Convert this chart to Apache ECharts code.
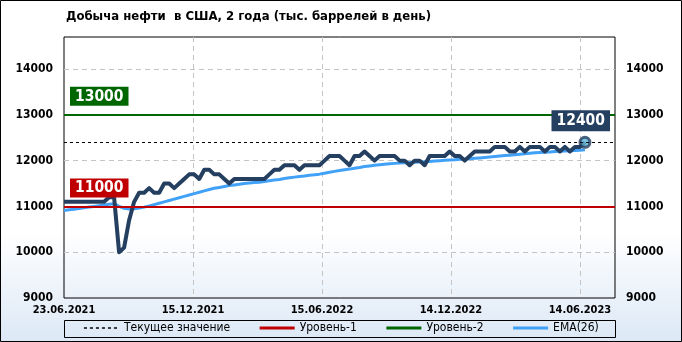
<!DOCTYPE html>
<html><head><meta charset="utf-8">
<script src="https://cdn.jsdelivr.net/npm/echarts@6/dist/echarts.min.js"></script>
<style>html,body{margin:0;padding:0;background:#fff}#c{width:682px;height:342px}</style>
</head><body><div id="c"></div>
<script>
const FONT = "'DejaVu Sans Condensed','DejaVu Sans',sans-serif";
const titleText = 'Добыча нефти  в США, 2 года (тыс. баррелей в день)';
const xTickLabels = ['23.06.2021','15.12.2021','15.06.2022','14.12.2022','14.06.2023'];
const yTickMin = 9000, yTickMax = 14700, yTickStep = 1000;
const production = [
  11100,11100,11100,11100,11100,11100,11100,11100,11100,11200,
  11200,10000,10100,10700,11100,11300,11300,11400,11300,11300,
  11500,11500,11400,11500,11600,11700,11700,11600,11800,11800,
  11700,11700,11600,11500,11600,11600,11600,11600,11600,11600,
  11600,11700,11800,11800,11900,11900,11900,11800,11900,11900,
  11900,11900,12000,12100,12100,12100,12000,11900,12100,12100,
  12200,12100,12000,12100,12100,12100,12100,12000,12000,11900,
  12000,12000,11900,12100,12100,12100,12100,12200,12100,12100,
  12000,12100,12200,12200,12200,12200,12300,12300,12300,12200,
  12200,12300,12200,12300,12300,12300,12200,12300,12300,12200,
  12300,12200,12300,12300,12400
];
const ema26 = [
  10910,10925,10940,10955,10970,10985,11000,11015,11030,11045,
  11060,11000,10960,10945,10950,10965,10985,11010,11040,11070,
  11100,11130,11160,11190,11220,11250,11280,11310,11340,11370,
  11395,11415,11435,11455,11470,11485,11500,11510,11520,11530,
  11545,11560,11575,11590,11610,11625,11640,11655,11665,11680,
  11690,11705,11725,11745,11765,11785,11800,11815,11835,11850,
  11870,11885,11900,11910,11920,11930,11940,11950,11955,11960,
  11965,11970,11975,11980,11990,12000,12010,12015,12020,12030,
  12035,12040,12050,12060,12070,12080,12090,12100,12110,12120,
  12130,12140,12150,12160,12170,12180,12185,12190,12200,12205,
  12210,12215,12220,12225,12235
];
const levels = [11000, 13000];
const xSlots = 110;          // weekly slots on the axis (axis runs past the last point)
const xLabelStep = 25.75;    // label spacing in slots

const NAVY = '#243f60', BLUE = '#41a1f7', RED = '#c00000', GREEN = '#006600';
const current = production[production.length - 1];
const lastIdx = production.length - 1;

function levelSeries(name, value, color) {
  return {
    name, type: 'line', data: [], symbol: 'none', z: 1,
    lineStyle: { color, width: 3 }, itemStyle: { color },
    markLine: {
      silent: true, symbol: 'none', animation: false,
      lineStyle: { color, width: 2, type: 'solid' },
      label: {
        show: true, position: 'insideStartTop', formatter: String(value), distance: [6, 9],
        backgroundColor: color, color: '#fff', fontFamily: FONT, fontWeight: 'bold',
        fontSize: 15.5, lineHeight: 16, padding: [2, 5, 1, 5]
      },
      emphasis: { disabled: true },
      data: [{ yAxis: value }]
    }
  };
}

const yLabel = { showMaxLabel: false, margin: 11, fontFamily: FONT, fontSize: 12, fontWeight: 'bold', color: '#000', formatter: v => String(v) };

const chart = echarts.init(document.getElementById('c'), null, { renderer: 'canvas' });
chart.setOption({
  animation: false,
  backgroundColor: new echarts.graphic.LinearGradient(0, 0, 0, 1, [
    { offset: 0, color: '#ffffff' }, { offset: 0.68, color: '#ffffff' }, { offset: 1, color: '#dce8f6' }
  ]),
  title: {
    text: titleText, left: 61, top: 5,
    textStyle: { fontFamily: FONT, fontSize: 13, fontWeight: 'bold', color: '#000' }
  },
  grid: { left: 64, right: 67, top: 37, bottom: 44, show: true, borderColor: '#000', borderWidth: 1, backgroundColor: 'transparent' },
  legend: {
    data: [
      { name: 'Текущее значение', lineStyle: { width: 1.5 } },
      'Уровень-1', 'Уровень-2', 'EMA(26)'
    ],
    left: 'center', top: 322, padding: 0, itemWidth: 35, itemHeight: 14, itemGap: 28,
    itemStyle: { opacity: 0 },
    lineStyle: { width: 3 },
    textStyle: { fontFamily: FONT, fontSize: 12, color: '#000' }
  },
  graphic: [
    { type: 'rect', silent: true, shape: { x: 64.5, y: 320.5, width: 551, height: 17 }, style: { fill: 'none', stroke: '#000', lineWidth: 1 } },
    { type: 'rect', silent: true, shape: { x: 0.5, y: 0.5, width: 681, height: 341 }, style: { fill: 'none', stroke: '#000', lineWidth: 1 } }
  ],
  xAxis: {
    type: 'value', min: 0, max: xSlots, interval: xLabelStep,
    axisLine: { show: false }, axisTick: { show: false },
    axisLabel: {
      showMaxLabel: false, margin: 7, fontFamily: FONT, fontSize: 11, fontWeight: 'bold', color: '#000',
      formatter: v => xTickLabels[Math.round(v / xLabelStep)] || ''
    },
    splitLine: { show: true, showMinLine: false, showMaxLine: false, lineStyle: { color: '#c4c4c4', type: [5, 4], width: 1 } }
  },
  yAxis: [
    {
      type: 'value', min: yTickMin, max: yTickMax, interval: yTickStep, position: 'left',
      axisLine: { show: false }, axisTick: { show: false }, axisLabel: yLabel,
      splitLine: { show: true, showMinLine: false, showMaxLine: false, lineStyle: { color: '#c4c4c4', type: [5, 4], width: 1 } }
    },
    {
      type: 'value', min: yTickMin, max: yTickMax, interval: yTickStep, position: 'right',
      axisLine: { show: false }, axisTick: { show: false }, axisLabel: yLabel,
      splitLine: { show: false }
    }
  ],
  series: [
    {
      name: 'Текущее значение', type: 'line', data: [], symbol: 'none', z: 1,
      lineStyle: { color: '#000', width: 1, type: [3, 3] }, itemStyle: { color: '#000' },
      markLine: {
        silent: true, symbol: 'none', animation: false,
        lineStyle: { color: '#000', width: 1, type: [3, 3] },
        label: {
          show: true, position: 'insideEndTop', formatter: String(current), distance: [5, 11],
          backgroundColor: NAVY, color: '#fff', fontFamily: FONT, fontWeight: 'bold',
          fontSize: 15.5, lineHeight: 17, padding: [2, 5, 2, 5]
        },
        emphasis: { disabled: true },
        data: [{ yAxis: current }]
      }
    },
    levelSeries('Уровень-1', levels[0], RED),
    levelSeries('Уровень-2', levels[1], GREEN),
    {
      name: 'EMA(26)', type: 'line', symbol: 'none', z: 2,
      data: ema26.map((v, i) => [i, v]),
      lineStyle: { color: BLUE, width: 3 }, itemStyle: { color: BLUE }
    },
    {
      name: 'Добыча', type: 'line', symbol: 'none', z: 3,
      data: production.map((v, i) => [i, v]),
      lineStyle: { color: NAVY, width: 4, join: 'round' }, itemStyle: { color: NAVY }
    },
    {
      name: 'last', type: 'scatter', z: 4, symbol: 'circle', symbolSize: 10,
      data: [[lastIdx, current]],
      itemStyle: { color: '#5bb4d6', borderColor: NAVY, borderWidth: 3 }
    }
  ]
});
</script></body></html>
